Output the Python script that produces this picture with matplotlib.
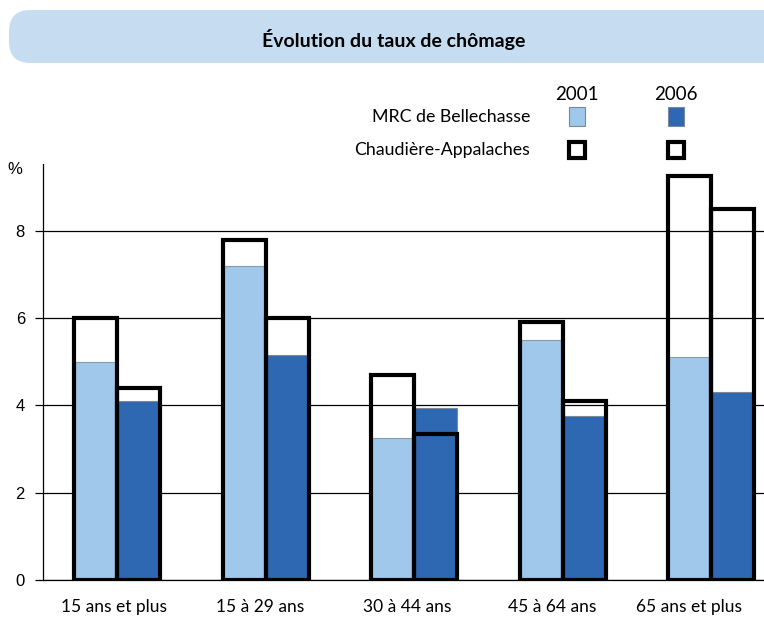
import numpy as np
import matplotlib.pyplot as plt
from matplotlib.patches import FancyBboxPatch, Rectangle

# taux de chomage (%)
categories = ['15 ans et plus', '15 à 29 ans', '30 à 44 ans', '45 à 64 ans', '65 ans et plus']
mrc_2001 = [5.0, 7.2, 3.25, 5.5, 5.1]
mrc_2006 = [4.1, 5.15, 3.95, 3.75, 4.3]
ca_2001 = [6.0, 7.8, 4.7, 5.9, 9.25]
ca_2006 = [4.4, 6.0, 3.35, 4.1, 8.5]
years = ['2001', '2006']
yticks = [0, 2, 4, 6, 8]

light = '#a0c8ea'
dark = '#2f68b2'
banner = '#c5dcf1'
txt_font = ['Lato', 'DejaVu Sans']

fig = plt.figure(figsize=(7.64, 6.19), dpi=100)
ax = fig.add_axes([43 / 764, 39 / 619, 721 / 764, 416 / 619])

x = np.arange(len(categories))
w = 0.29
ax.bar(x - w / 2, mrc_2001, w, color=light, edgecolor='#8a9aa8', linewidth=0.8, zorder=2)
ax.bar(x + w / 2, mrc_2006, w, color=dark, edgecolor='#7a8898', linewidth=0.8, zorder=2)
ax.bar(x - w / 2, ca_2001, w, fill=False, edgecolor='black', linewidth=3, zorder=3)
ax.bar(x + w / 2, ca_2006, w, fill=False, edgecolor='black', linewidth=3, zorder=3)

ax.set_xlim(-0.5, 721 / 148.5 - 0.5)
ax.set_ylim(0, 9.53)
ax.set_yticks(yticks)
ax.set_yticklabels([str(t) for t in yticks], family='Liberation Sans', fontsize=12)
ax.yaxis.grid(True, color='black', linewidth=0.9, zorder=1)
ax.set_axisbelow(True)
ax.tick_params(axis='y', length=6, width=0.9, pad=7)
ax.tick_params(axis='x', length=0, pad=14)
# les etiquettes sont un peu decalees vers la gauche dans l'original
ax.set_xticks(x - np.array([0.02, 0.04, 0.05, 0.07, 0.15]))
ax.set_xticklabels(categories, family=txt_font, fontsize=12.5)
for s in ['top', 'right', 'bottom']:
    ax.spines[s].set_visible(False)
ax.spines['left'].set_linewidth(0.9)
ax.axhline(0, color='black', linewidth=0.9, zorder=1, clip_on=False)

fig.text(15 / 764, 1 - 170 / 619, '%', family='Liberation Sans', fontsize=12,
         ha='center', va='center')

# bandeau du titre
fig.patches.append(FancyBboxPatch((9 / 764, 1 - 63 / 619), 800 / 764, 53 / 619,
                                  boxstyle='round,pad=0,rounding_size=0.028',
                                  transform=fig.transFigure, facecolor=banner,
                                  edgecolor='none', mutation_aspect=764 / 619))
fig.text(394 / 764, 1 - 39 / 619, 'Évolution du taux de chômage', family=txt_font,
         fontsize=14, fontweight='bold', ha='center', va='center')

# legende
lx = [577, 676]
for xi, yr in zip(lx, years):
    fig.text(xi / 764, 1 - 94 / 619, yr, family=txt_font, fontsize=13.5,
             ha='center', va='center')
fig.text(530 / 764, 1 - 117 / 619, 'MRC de Bellechasse', family=txt_font,
         fontsize=12.8, ha='right', va='center')
fig.text(530 / 764, 1 - 150 / 619, 'Chaudière-Appalaches', family=txt_font,
         fontsize=12.8, ha='right', va='center')
for xi, c in zip(lx, [light, dark]):
    fig.patches.append(Rectangle(((xi - 8) / 764, 1 - 126 / 619), 16 / 764, 19 / 619,
                                 transform=fig.transFigure, facecolor=c,
                                 edgecolor='#7a8898', linewidth=0.8))
    fig.patches.append(Rectangle(((xi - 8) / 764, 1 - 158 / 619), 16 / 764, 16 / 619,
                                 transform=fig.transFigure, facecolor='white',
                                 edgecolor='black', linewidth=3))

fig.savefig('out.png', dpi=100)
